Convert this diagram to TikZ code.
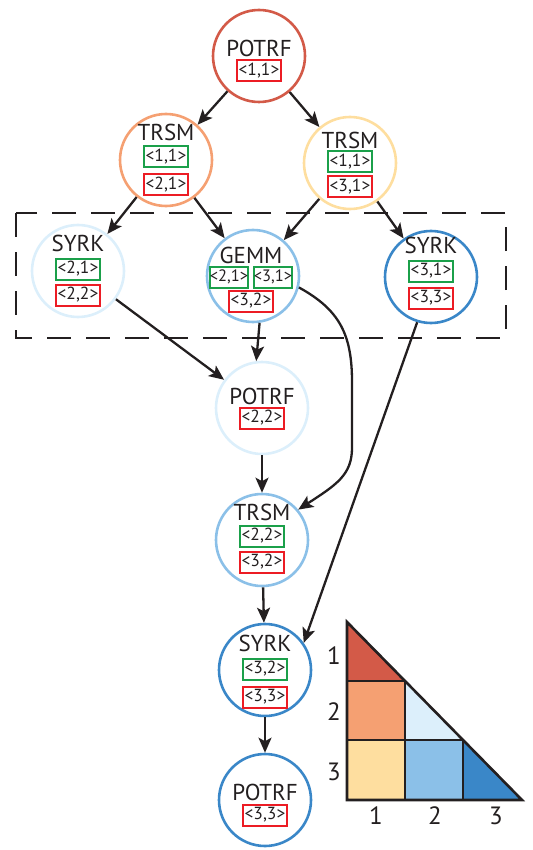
\documentclass[tikz,border=0pt]{standalone}
\usepackage{fontspec}
\setmainfont{PT Sans}
\usetikzlibrary{arrows.meta,calc}
\definecolor{cRed}{HTML}{D35A48}
\definecolor{cOrange}{HTML}{F5A072}
\definecolor{cYellow}{HTML}{FEDE9F}
\definecolor{cVLight}{HTML}{DCEFFB}
\definecolor{cMid}{HTML}{8BC0E8}
\definecolor{cDark}{HTML}{3A87C8}
\definecolor{tagGreen}{HTML}{1BA04A}
\definecolor{tagRed}{HTML}{EC1C24}
\definecolor{ink}{HTML}{231F20}
\tikzset{
  task/.style={circle, draw=#1, line width=2.6pt, minimum size=92pt, inner sep=0pt},
  ttl/.style={font=\fontsize{23}{25}\selectfont, text=ink, inner sep=0pt},
  gtag/.style={draw=tagGreen, line width=2pt, font=\fontsize{17.5}{19}\selectfont, text=ink, inner xsep=2pt, inner ysep=0pt, minimum height=21pt},
  rtag/.style={gtag, draw=tagRed},
  ntag/.style={gtag, font=\fontsize{16.5}{18}\selectfont, inner xsep=0.3pt},
  dep/.style={draw=ink, line width=2.3pt, -{Stealth[length=15pt,width=13pt,inset=3.5pt]}},
  axlab/.style={font=\fontsize{25}{27}\selectfont, text=ink, inner sep=0pt},
  cellline/.style={draw=ink, line width=2.6pt, line join=miter}
}
\begin{document}
\begin{tikzpicture}[x=1pt,y=-1pt]
\useasboundingbox (0,0) rectangle (532,850);
% dashed group box
\draw[ink, line width=2.5pt, dash pattern=on 24pt off 15pt, dash phase=0pt] (16,213) rectangle (506,338);
% task circles
\node[task=cRed] (p1) at (259,56) {};
\node[task=cOrange] (t1) at (166,160) {};
\node[task=cYellow] (t2) at (350,163) {};
\node[task=cVLight] (s1) at (78,271) {};
\node[task=cMid] (g) at (253,276) {};
\node[task=cDark] (s2) at (431,277) {};
\node[task=cVLight] (p2) at (262,408) {};
\node[task=cMid] (t3) at (262,540) {};
\node[task=cDark] (s3) at (265,670) {};
\node[task=cDark] (p3) at (265,800) {};
% labels
\node[ttl] (p1n) at (259,48) {POTRF};
\node[rtag] (p1r) at (259,71) {<1,1>};
\node[ttl] (t1n) at (166,132) {TRSM};
\node[gtag] (t1g) at (166,157) {<1,1>};
\node[rtag] (t1r) at (166,185) {<2,1>};
\node[ttl] (t2n) at (350,140) {TRSM};
\node[gtag] (t2g) at (350,162) {<1,1>};
\node[rtag] (t2r) at (350,187) {<3,1>};
\node[ttl] (s1n) at (78,243) {SYRK};
\node[gtag] (s1g) at (78,269) {<2,1>};
\node[rtag] (s1r) at (78,295) {<2,2>};
\node[ttl] (gn) at (251,255) {GEMM};
\node[ntag] (gg1) at (229,277) {<2,1>};
\node[ntag] (gg2) at (273,277) {<3,1>};
\node[rtag] (gr) at (251,301) {<3,2>};
\node[ttl] (s2n) at (431,245) {SYRK};
\node[gtag] (s2g) at (431,271) {<3,1>};
\node[rtag] (s2r) at (431,298) {<3,3>};
\node[ttl] (p2n) at (262,396) {POTRF};
\node[rtag] (p2r) at (262,418) {<2,2>};
\node[ttl] (t3n) at (262,512) {TRSM};
\node[gtag] (t3g) at (262,536) {<2,2>};
\node[rtag] (t3r) at (262,562) {<3,2>};
\node[ttl] (s3n) at (265,643) {SYRK};
\node[gtag] (s3g) at (265,669) {<3,2>};
\node[rtag] (s3r) at (265,697) {<3,3>};
\node[ttl] (p3n) at (265,792) {POTRF};
\node[rtag] (p3r) at (265,815) {<3,3>};
% dependencies
\draw[dep] (p1) -- (t1);
\draw[dep] (p1) -- (t2);
\draw[dep] (t1) -- (s1);
\draw[dep] (t1) -- (g);
\draw[dep] (t2) -- (g);
\draw[dep] (t2) -- (s2);
\draw[dep] (s1) -- (p2);
\draw[dep] (g.-82) -- (p2.97);
\draw[dep] (g.-14) .. controls (340,310) and (352,335) .. (352,382) -- (352,448) .. controls (352,475) and (336,485) .. (t3.40);
\draw[dep] (s2.253) -- (s3.35);
\draw[dep] (p2) -- (t3);
\draw[dep] (t3) -- (s3);
\draw[dep] (s3) -- (p3);
% triangle legend
\coordinate (A) at (347,622);
\coordinate (B) at (347,800);
\coordinate (C) at (522,800);
\fill[cRed] (347,622) -- (405,681) -- (347,681) -- cycle;
\fill[cOrange] (347,681) rectangle (405,740);
\fill[cVLight] (405,681) -- (463,740) -- (405,740) -- cycle;
\fill[cYellow] (347,740) rectangle (405,800);
\fill[cMid] (405,740) rectangle (463,800);
\fill[cDark] (463,740) -- (522,800) -- (463,800) -- cycle;
\draw[cellline] (347,681) -- (405,681) (347,740) -- (463,740) (405,681) -- (405,800) (463,740) -- (463,800);
\draw[cellline] (A) -- (B) -- (C) -- cycle;
\node[axlab] (r1) at (334,656) {1};
\node[axlab] (r2) at (334,712) {2};
\node[axlab] (r3) at (334,772) {3};
\node[axlab] (c1) at (376,816) {1};
\node[axlab] (c2) at (435,816) {2};
\node[axlab] (c3) at (496,816) {3};
\end{tikzpicture}
\end{document}
